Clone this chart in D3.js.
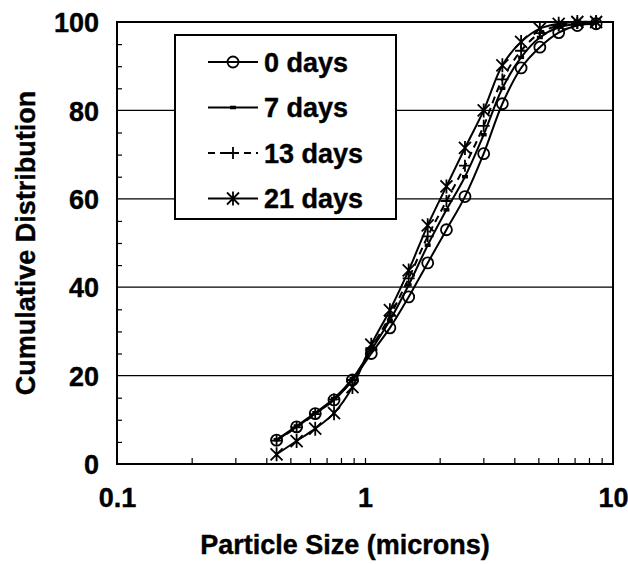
<!DOCTYPE html>
<html>
<head>
<meta charset="utf-8">
<script src="https://cdnjs.cloudflare.com/ajax/libs/d3/7.8.5/d3.min.js"></script>
<style>
    body { margin: 0; background: #fff; }
    text { font-family: Arial, "Liberation Sans", sans-serif; font-weight: bold; fill: #000; stroke: #000; stroke-width: 0.4px; }
</style>
</head>
<body>
<div id="chart"></div>
<script>
// particle size bins (microns)
var sizes = [0.44, 0.53, 0.63, 0.75, 0.89, 1.06, 1.26, 1.5, 1.79, 2.13, 2.53, 3.01, 3.58, 4.26, 5.07, 6.04, 7.18, 8.55];

var day0 = [5.4, 8.4, 11.4, 14.5, 19.0, 25.0, 30.8, 37.8, 45.5, 53.0, 60.5, 70.2, 81.5, 89.6, 94.3, 97.6, 99.2, 99.6];
var day7 = [5.5, 8.6, 11.6, 14.8, 19.3, 25.8, 32.5, 40.5, 49.5, 57.5, 65.0, 74.5, 85.0, 92.0, 96.5, 98.8, 99.6, 100];
var day13 = [5.3, 8.3, 11.3, 14.6, 19.0, 26.2, 33.5, 42.0, 51.5, 59.5, 67.5, 76.5, 87.0, 93.5, 97.5, 99.2, 99.8, 100];
var day21 = [2.2, 5.2, 8.0, 11.5, 17.4, 27.0, 34.8, 43.8, 54.0, 62.8, 71.5, 80.0, 90.2, 95.5, 98.5, 99.6, 100, 100];

var seriesNames = ["0 days", "7 days", "13 days", "21 days"];
var yTicks = [0, 20, 40, 60, 80, 100];
var xTicks = [0.1, 1, 10];

(function () {
    var width = 628,
        height = 564;

    var margin = { left: 117, right: 15, top: 22, bottom: 100 };

    var svg = d3.select("#chart")
        .append("svg")
        .attr("width", width)
        .attr("height", height)
        .style("background", "#fff")

    var x = d3.scaleLog().domain([0.1, 10]).range([margin.left, width - margin.right])
    var y = d3.scaleLinear().domain([0, 100]).range([height - margin.bottom, margin.top])

    var series = [
        { name: seriesNames[0], values: day0, marker: "circle", dash: null },
        { name: seriesNames[1], values: day7, marker: "dash", dash: null },
        { name: seriesNames[2], values: day13, marker: "plus", dash: "7,5" },
        { name: seriesNames[3], values: day21, marker: "star", dash: null }
    ]

    // gridlines
    svg.selectAll(".grid")
        .data(yTicks.filter(function (d) { return d > 0 && d < 100 }))
        .enter().append("line")
        .attr("class", "grid")
        .attr("x1", x(0.1))
        .attr("x2", x(10))
        .attr("y1", function (d) { return y(d) })
        .attr("y2", function (d) { return y(d) })
        .attr("stroke", "#000")
        .attr("stroke-width", 1.3)

    // minor ticks, pointing into the plot
    var yMinor = d3.range(0, 101, 5).filter(function (d) { return d % 20 !== 0 })
    svg.append("g")
        .attr("transform", "translate(" + x(0.1) + ",0)")
        .call(d3.axisRight(y).tickValues(yMinor).tickSize(5).tickFormat(""))
        .call(function (g) { g.select(".domain").remove() })
        .selectAll("line").attr("stroke-width", 1.2)

    var xMinor = x.ticks().filter(function (d) { return xTicks.indexOf(d) < 0 })
    svg.append("g")
        .attr("transform", "translate(0," + y(0) + ")")
        .call(d3.axisTop(x).tickValues(xMinor.concat([1])).tickSize(6).tickFormat(""))
        .call(function (g) { g.select(".domain").remove() })
        .selectAll("line").attr("stroke-width", 1.2)

    // frame
    svg.append("rect")
        .attr("x", x(0.1))
        .attr("y", y(100))
        .attr("width", x(10) - x(0.1))
        .attr("height", y(0) - y(100))
        .attr("fill", "none")
        .attr("stroke", "#000")
        .attr("stroke-width", 2)

    // tick labels
    var yAxis = svg.append("g")
        .attr("transform", "translate(" + (x(0.1) - 18) + ",0)")
        .call(d3.axisLeft(y).tickValues(yTicks).tickSize(0).tickPadding(0))
    yAxis.select(".domain").remove()
    yAxis.selectAll("text")
        .attr("font-size", 27)
        .attr("font-family", null)
        .attr("fill", null)
        .attr("dy", "0.36em")

    var xAxis = svg.append("g")
        .attr("transform", "translate(0," + (y(0) + 24) + ")")
        .call(d3.axisBottom(x).tickValues(xTicks).tickSize(0).tickPadding(0)
            .tickFormat(function (d) { return d }))
    xAxis.select(".domain").remove()
    xAxis.selectAll("text")
        .attr("font-size", 27)
        .attr("font-family", null)
        .attr("fill", null)

    // axis titles
    svg.append("text")
        .attr("x", (x(0.1) + x(10)) / 2 - 20)
        .attr("y", 554)
        .attr("text-anchor", "middle")
        .attr("font-size", 27)
        .text("Particle Size (microns)")

    svg.append("text")
        .attr("transform", "translate(35," + ((y(0) + y(100)) / 2) + ") rotate(-90)")
        .attr("text-anchor", "middle")
        .attr("font-size", 27)
        .text("Cumulative Distribution")

    // lines
    var line = d3.line()
        .curve(d3.curveCatmullRom)
        .x(function (d) { return x(d[0]) })
        .y(function (d) { return y(d[1]) })

    var groups = svg.selectAll(".series")
        .data(series)
        .enter().append("g")
        .attr("class", "series")

    groups.append("path")
        .attr("d", function (s) {
            return line(sizes.map(function (v, i) { return [v, s.values[i]] }))
        })
        .attr("fill", "none")
        .attr("stroke", "#000")
        .attr("stroke-width", 2)
        .attr("stroke-dasharray", function (s) { return s.dash })

    function drawMarker(g, type) {
        if (type === "circle") {
            g.append("circle").attr("r", 5.5)
                .attr("fill", "none").attr("stroke", "#000").attr("stroke-width", 1.8)
        } else if (type === "dash") {
            g.append("line").attr("x1", -3).attr("x2", 3)
                .attr("stroke", "#000").attr("stroke-width", 3.5)
        } else if (type === "plus") {
            g.append("path").attr("d", "M-6,0H6M0,-6V6")
                .attr("stroke", "#000").attr("stroke-width", 1.8)
        } else {
            g.append("path").attr("d", "M0,-7V7M-6,-6L6,6M-6,6L6,-6")
                .attr("stroke", "#000").attr("stroke-width", 1.8)
        }
    }

    groups.each(function (s) {
        var g = d3.select(this)
        g.selectAll(".pt")
            .data(s.values)
            .enter().append("g")
            .attr("class", "pt")
            .attr("transform", function (d, i) {
                return "translate(" + x(sizes[i]) + "," + y(d) + ")"
            })
            .each(function () { drawMarker(d3.select(this), s.marker) })
    })

    // legend
    var legend = svg.append("g").attr("transform", "translate(175,35)")
    legend.append("rect")
        .attr("width", 221)
        .attr("height", 184)
        .attr("fill", "#fff")
        .attr("stroke", "#000")
        .attr("stroke-width", 2)

    var items = legend.selectAll(".item")
        .data(series)
        .enter().append("g")
        .attr("class", "item")
        .attr("transform", function (d, i) { return "translate(0," + (27 + i * 45.5) + ")" })

    items.append("line")
        .attr("x1", 33).attr("x2", 83)
        .attr("stroke", "#000")
        .attr("stroke-width", 2)
        .attr("stroke-dasharray", function (s) { return s.dash })

    items.append("g")
        .attr("transform", "translate(58,0)")
        .each(function (s) { drawMarker(d3.select(this), s.marker) })

    items.append("text")
        .attr("x", 89)
        .attr("dy", "0.36em")
        .attr("font-size", 27)
        .text(function (s) { return s.name })
})();
</script>
</body>
</html>
